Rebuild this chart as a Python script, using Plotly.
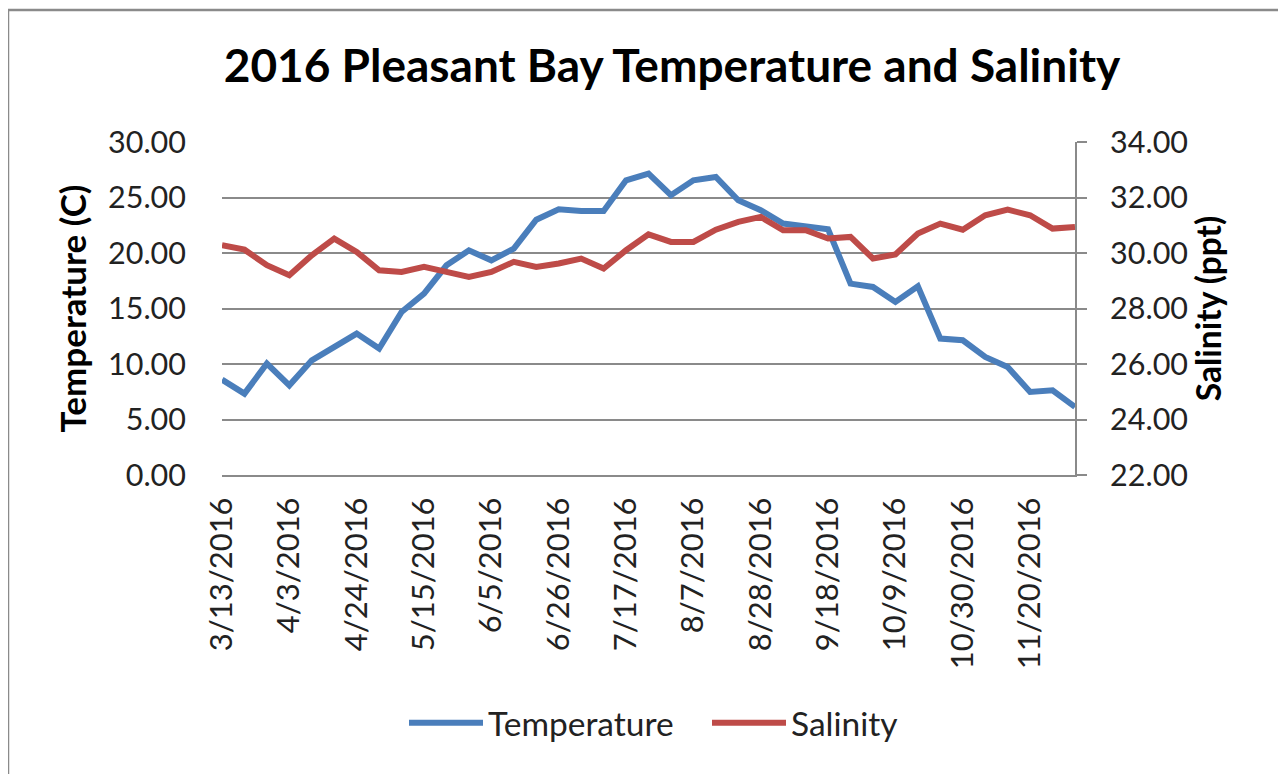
import plotly.graph_objects as go

dates = ["3/13/2016", "3/20/2016", "3/27/2016", "4/3/2016", "4/10/2016", "4/17/2016",
         "4/24/2016", "5/1/2016", "5/8/2016", "5/15/2016", "5/22/2016", "5/29/2016",
         "6/5/2016", "6/12/2016", "6/19/2016", "6/26/2016", "7/3/2016", "7/10/2016",
         "7/17/2016", "7/24/2016", "7/31/2016", "8/7/2016", "8/14/2016", "8/21/2016",
         "8/28/2016", "9/4/2016", "9/11/2016", "9/18/2016", "9/25/2016", "10/2/2016",
         "10/9/2016", "10/16/2016", "10/23/2016", "10/30/2016", "11/6/2016", "11/13/2016",
         "11/20/2016", "11/27/2016", "12/4/2016"]

temperature = [8.59, 7.33, 10.04, 8.08, 10.33, 11.53, 12.74, 11.39, 14.69, 16.34,
               18.89, 20.24, 19.34, 20.39, 23.00, 23.94, 23.78, 23.78, 26.55, 27.15,
               25.20, 26.55, 26.85, 24.75, 23.85, 22.65, 22.34, 22.14, 17.24, 16.94,
               15.59, 17.00, 12.29, 12.14, 10.63, 9.73, 7.48, 7.63, 6.13]

salinity = [30.28, 30.12, 29.56, 29.20, 29.92, 30.52, 30.04, 29.38, 29.32, 29.50,
            29.32, 29.14, 29.32, 29.68, 29.50, 29.62, 29.80, 29.44, 30.10, 30.67,
            30.40, 30.40, 30.84, 31.12, 31.30, 30.82, 30.82, 30.52, 30.58, 29.80,
            29.95, 30.70, 31.06, 30.84, 31.36, 31.56, 31.36, 30.88, 30.94]

tick_labels = dates[::3]

# The page body adds an 8 px margin, so figure coordinates = page coordinates - 8
OFF = 8
W, H = 1286 - OFF, 774 - OFF
L, R, T, B = 222 - OFF, 1075 - OFF, 142 - OFF, 475 - OFF  # plot-area edges
FONT = "Lato"
GRID = "#8a8a8a"

def px_x(p):
    return (p - L) / (R - L)

def px_y(p):
    return (B - p) / (B - T)

fig = go.Figure()
fig.add_trace(go.Scatter(x=dates, y=temperature, name="Temperature", mode="lines",
                         line=dict(color="#4a7ebb", width=6)))
fig.add_trace(go.Scatter(x=dates, y=salinity, name="Salinity", mode="lines",
                         line=dict(color="#be4b48", width=6), yaxis="y2"))

fig.update_layout(
    width=W, height=H,
    margin=dict(l=L, r=W - R, t=T, b=H - B),
    paper_bgcolor="white", plot_bgcolor="white",
    font=dict(family=FONT, color="#222222"),
    title=dict(text="<b>2016 Pleasant Bay Temperature and Salinity</b>",
               font=dict(family=FONT, size=46, color="#000000"),
               x=(672 - OFF) / W, xanchor="center", y=1 - (66 - OFF) / H, yanchor="middle"),
    xaxis=dict(type="category", range=[0, len(dates) - 1],
               tickmode="array", tickvals=tick_labels, ticktext=tick_labels,
               tickangle=-90, tickfont=dict(size=31, color="#222222"),
               showgrid=False, showline=True, linecolor=GRID, linewidth=2,
               ticks="", ticklabelstandoff=8, zeroline=False),
    yaxis=dict(range=[0, 30], dtick=5, tickformat=".2f",
               tickfont=dict(size=30.5, color="#222222"),
               showgrid=True, gridcolor=GRID, gridwidth=2,
               showline=False, ticks="", zeroline=False, ticklabelstandoff=35,
               title=dict(text="<b>Temperature (C)</b>", font=dict(size=35, color="#000000"),
                          standoff=10)),
    yaxis2=dict(range=[22, 34], dtick=2, tickformat=".2f", overlaying="y", side="right",
                tickfont=dict(size=30.5, color="#222222"),
                showgrid=False, showline=True, linecolor=GRID, linewidth=2,
                ticks="outside", ticklen=10, tickcolor=GRID, tickwidth=2,
                ticklabelstandoff=17, zeroline=False,
                title=dict(text="<b>Salinity (ppt)</b>", font=dict(size=33.5, color="#000000"),
                           standoff=8)),
    legend=dict(orientation="h", x=(404 - OFF) / W, xref="container", xanchor="left",
                y=1 - (723 - OFF) / H, yref="container", yanchor="middle",
                font=dict(size=33.5, color="#222222"), itemwidth=74,
                entrywidth=214, entrywidthmode="pixels"),
    showlegend=True,
)

# chart-area frame
fig.add_shape(type="rect", xref="paper", yref="paper",
              x0=px_x(7 - OFF + 1), x1=px_x(1283 - OFF), y0=px_y(800), y1=px_y(9 - OFF + 1),
              line=dict(color="#8a8a8a", width=2.5), fillcolor="rgba(0,0,0,0)",
              layer="below")

fig.write_html("out.html")
